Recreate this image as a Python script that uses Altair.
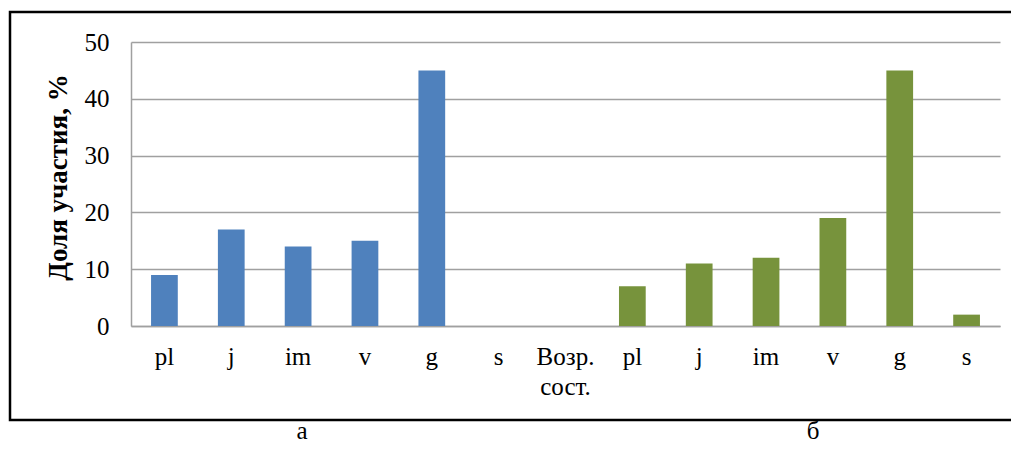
import altair as alt
import pandas as pd

# categories (unique keys: group:label)
categories = ["a:pl", "a:j", "a:im", "a:v", "a:g", "a:s", "x:Возр. сост.",
              "b:pl", "b:j", "b:im", "b:v", "b:g", "b:s"]
labels_a = ["pl", "j", "im", "v", "g", "s"]
values_a = [9, 17, 14, 15, 45, 0]
labels_b = ["pl", "j", "im", "v", "g", "s"]
values_b = [7, 11, 12, 19, 45, 2]
panel_labels = ["а", "б"]
y_ticks = [0, 10, 20, 30, 40, 50]

rows = []
for l, v in zip(labels_a, values_a):
    rows.append({"key": "a:" + l, "value": v, "group": "а"})
for l, v in zip(labels_b, values_b):
    rows.append({"key": "b:" + l, "value": v, "group": "б"})
df = pd.DataFrame(rows)

FONT = "Liberation Serif"
W, H = 869, 284

bars = alt.Chart(df).mark_bar().encode(
    x=alt.X("key:N", sort=categories,
            scale=alt.Scale(domain=categories, paddingInner=0.6, paddingOuter=0.3),
            axis=alt.Axis(title=None, labelAngle=0, ticks=False,
                          labelExpr="split(split(datum.label, ':')[1], ' ')",
                          labelFont=FONT, labelFontSize=25, labelColor="#000000",
                          labelPadding=18, labelLineHeight=30,
                          domainColor="#a0a0a0", domainWidth=1.5, grid=False)),
    y=alt.Y("value:Q", scale=alt.Scale(domain=[0, 50], nice=False),
            axis=alt.Axis(title="Доля участия, %", values=y_ticks, ticks=False,
                          labelFont=FONT, labelFontSize=25, labelColor="#000000",
                          labelPadding=22, titleFont=FONT, titleFontSize=27,
                          titleFontWeight="bold", titleColor="#000000",
                          titlePadding=12, titleY=135,
                          domainColor="#a0a0a0", domainWidth=1.5,
                          gridColor="#a0a0a0", gridWidth=1.5)),
    color=alt.Color("group:N", scale=alt.Scale(domain=["а", "б"],
                                                range=["#4F81BD", "#77933C"]),
                    legend=None),
)

dummy = pd.DataFrame({"d": [0]})
frame = alt.Chart(dummy).mark_rect(fill=None, stroke="#000000", strokeWidth=2.5).encode(
    x=alt.value(-121), x2=alt.value(895), y=alt.value(-30), y2=alt.value(378)
)
txt_a = alt.Chart(dummy).mark_text(text=panel_labels[0], font=FONT, fontSize=25,
                                   color="#000000", baseline="middle").encode(
    x=alt.value(171), y=alt.value(389))
txt_b = alt.Chart(dummy).mark_text(text=panel_labels[1], font=FONT, fontSize=25,
                                   color="#000000", baseline="middle").encode(
    x=alt.value(682), y=alt.value(389))

chart = alt.layer(frame, bars, txt_a, txt_b).properties(
    width=W, height=H,
    autosize=alt.AutoSizeParams(type="none"),
    padding={"left": 123, "top": 34, "right": 11, "bottom": 118},
    background="#ffffff",
).configure_view(stroke=None)

chart.save("out.html", embed_options={"renderer": "svg", "actions": False})
